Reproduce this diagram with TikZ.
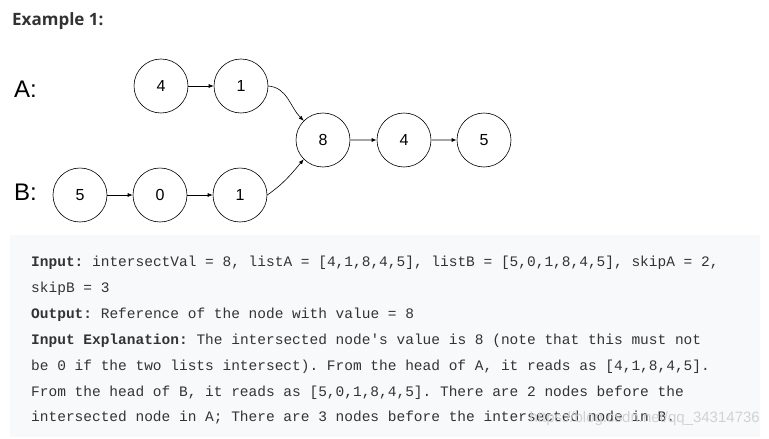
\documentclass[tikz,border=0pt]{standalone}
\usepackage{fontspec}
\setmainfont{Liberation Sans}
\setmonofont{Liberation Mono}
\newfontfamily\headfont{Open Sans}
\usetikzlibrary{arrows.meta}
\definecolor{boxgray}{HTML}{F7F9FA}
\definecolor{textgray}{HTML}{333333}
\definecolor{linegray}{HTML}{A6A6A6}
\begin{document}
\begin{tikzpicture}[x=1pt, y=1pt, line join=round, line cap=round, >={Latex[length=5pt,width=4pt]},
	listnode/.style={draw, circle, minimum size=54pt, inner sep=0pt, line width=0.6pt, font=\fontsize{16}{16}\selectfont},
	link/.style={->, line width=0.6pt},
	tail/.style={-{Latex[length=5pt,width=4pt,color=black]}, draw=linegray, line width=1.2pt},
	codeline/.style={anchor=base west, inner sep=0pt, text=textgray, font=\ttfamily\fontsize{14.5}{14.5}\selectfont}]
	\useasboundingbox (0,0) rectangle (769,-439);
	% heading and list names
	\node[anchor=base west, inner sep=0pt, text=textgray, font=\headfont\bfseries\fontsize{17}{17}\selectfont] (title) at (12,-25) {Example 1:};
	\node[anchor=base west, inner sep=0pt, font=\fontsize{24}{24}\selectfont] (nameA) at (14,-97) {A:};
	\node[anchor=base west, inner sep=0pt, font=\fontsize{24}{24}\selectfont] (nameB) at (14,-200) {B:};
	% the two lists
	\node[listnode] (a1) at (161,-86) {4};
	\node[listnode] (a2) at (241,-86) {1};
	\node[listnode] (c1) at (323,-140) {8};
	\node[listnode] (c2) at (404,-140) {4};
	\node[listnode] (c3) at (484,-140) {5};
	\node[listnode] (b1) at (80,-195) {5};
	\node[listnode] (b2) at (160,-195) {0};
	\node[listnode] (b3) at (240,-195) {1};
	\draw[link] (a1)--(a2);
	\draw[link] (b1)--(b2);
	\draw[link] (b2)--(b3);
	\draw[link] (a2.east) to[out=-5, in=135] (c1.135);
	\draw[link] (b3.east) to[out=35, in=-130] (c1.-135);
	\draw[tail] (c1)--(c2);
	\draw[tail] (c2)--(c3);
	% explanation box
	\fill[boxgray] (10,-235) rectangle (760,-437);
	\node[codeline] (l1) at (31,-266) {\textbf{Input:} intersectVal = 8, listA = [4,1,8,4,5], listB = [5,0,1,8,4,5], skipA = 2,};
	\node[codeline] (l2) at (31,-292) {skipB = 3};
	\node[codeline] (l3) at (31,-318) {\textbf{Output:} Reference of the node with value = 8};
	\node[codeline] (l4) at (31,-344) {\textbf{Input Explanation:} The intersected node's value is 8 (note that this must not};
	\node[codeline] (l5) at (31,-370) {be 0 if the two lists intersect). From the head of A, it reads as [4,1,8,4,5].};
	\node[codeline] (l6) at (31,-396) {From the head of B, it reads as [5,0,1,8,4,5]. There are 2 nodes before the};
	\node[codeline] (l7) at (31,-421) {intersected node in A; There are 3 nodes before the intersected node in B.};
	\node[anchor=base east, inner sep=0pt, text=gray!35, font=\fontsize{15}{15}\selectfont] (mark) at (760,-422) {https://blog.csdn.net/qq\_34314736};
\end{tikzpicture}
\end{document}
